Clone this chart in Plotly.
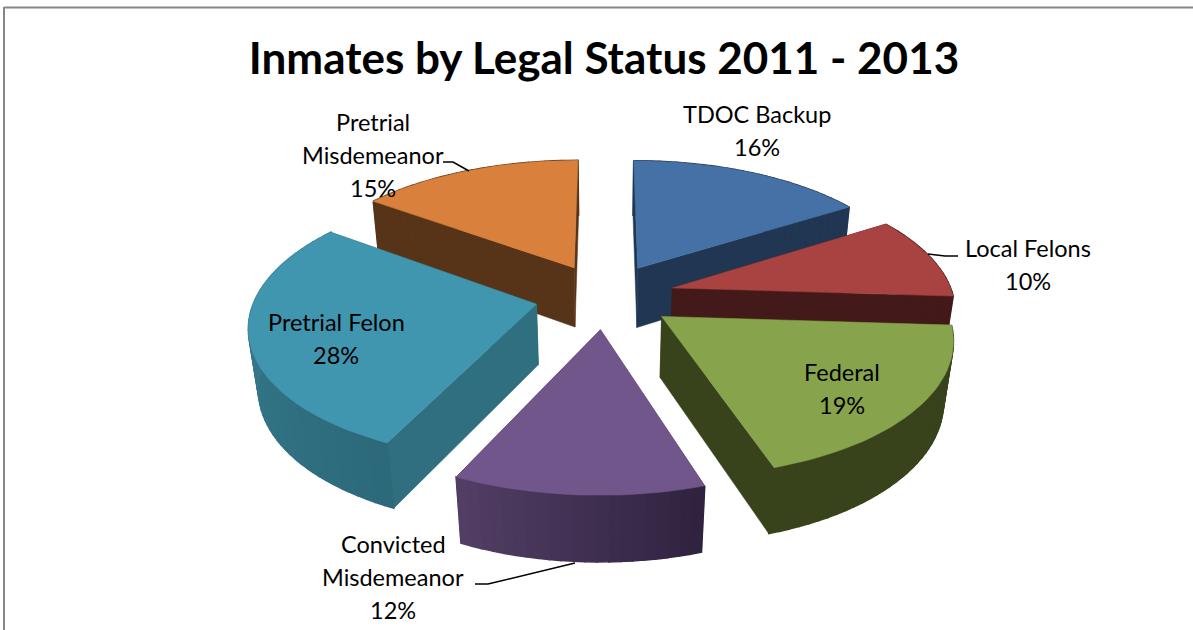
import math
import plotly.graph_objects as go

# Chart data
categories = ["TDOC Backup", "Local Felons", "Federal", "Convicted Misdemeanor", "Pretrial Felon", "Pretrial Misdemeanor"]
shares = [16, 10, 19, 12, 28, 15]

# Slice styling
top_colors = ["#4571A6", "#A84342", "#87A34C", "#71568C", "#4096AE", "#D8803C"]
side_colors = ["#203652", "#431A19", "#38431C", "#3F2F52", "#2F6F80", "#573418"]
wall_left = ["#203652", "#431A19", "#38431C", "#523E65", "#3A8095", "#573418"]
wall_right = ["#203652", "#431A19", "#38431C", "#30233F", "#2C6A7A", "#573418"]
paint_order = [0, 5, 1, 4, 2, 3]

# Projection of the tilted, exploded pie onto the plot area
CX, CY = 605, 296
RX, RY = 302, 140.5
PERSPECTIVE = 0.156
DEPTH_SHRINK = 0.028
THICKNESS = 62
EXPLODE = 0.232
RADIUS = 0.93


def project(u, v, drop=0.0):
    s = 1 / (1 + PERSPECTIVE * v + DEPTH_SHRINK * drop)
    return CX + RX * u * s, CY - RY * v * s + drop * THICKNESS * s


def hex_mix(a, b, t):
    ca = [int(a[i:i + 2], 16) for i in (1, 3, 5)]
    cb = [int(b[i:i + 2], 16) for i in (1, 3, 5)]
    return "#" + "".join(f"{round(x + (y - x) * t):02x}" for x, y in zip(ca, cb))


def polygon(points, color, edge=0.5):
    xs, ys = zip(*points)
    return go.Scatter(
        x=list(xs) + [xs[0]], y=list(ys) + [ys[0]], mode="lines", fill="toself",
        fillcolor=color, line=dict(color=color, width=edge), hoverinfo="skip", showlegend=False,
    )


fig = go.Figure()

total = sum(shares)
edges = [0.0]
for value in shares:
    edges.append(edges[-1] + 360.0 * value / total)

for i in paint_order:
    a0, a1 = edges[i], edges[i + 1]
    mid = math.radians((a0 + a1) / 2)
    ox, oy = EXPLODE * math.sin(mid), EXPLODE * math.cos(mid)
    steps = max(8, int((a1 - a0) / 2))
    angles = [math.radians(a0 + (a1 - a0) * k / steps) for k in range(steps + 1)]
    rim = [(ox + RADIUS * math.sin(t), oy + RADIUS * math.cos(t)) for t in angles]
    apex = (ox, oy)

    # Flat cut faces first, then the curved wall, then the top surface
    for end in (rim[0], rim[-1]):
        fig.add_trace(polygon([project(*apex), project(*end), project(*end, 1), project(*apex, 1)], side_colors[i]))
    for k in range(steps):
        t = k / max(steps - 1, 1)
        # Clockwise angles run right-to-left along the front of the pie
        shade = hex_mix(wall_right[i], wall_left[i], t)
        fig.add_trace(polygon([project(*rim[k]), project(*rim[k + 1]), project(*rim[k + 1], 1), project(*rim[k], 1)],
                              shade, edge=1.5))
    fig.add_trace(polygon([project(*apex)] + [project(*p) for p in rim], top_colors[i]))

# Leader lines between outside labels and their slices
leaders = [
    ([958, 945, 928], [256, 256, 254]),
    ([475, 488, 575], [584, 584, 563]),
    ([443, 453, 469], [162, 162, 171]),
]
for xs, ys in leaders:
    fig.add_trace(go.Scatter(x=xs, y=ys, mode="lines", line=dict(color="black", width=1.5),
                             hoverinfo="skip", showlegend=False))

# Data labels, one line of text at a time: category name above its percentage
label_lines = {
    0: (["TDOC Backup"], 757, 114),
    1: (["Local Felons"], 1028, 248),
    2: (["Federal"], 842, 372),
    3: (["Convicted", "Misdemeanor"], 393, 544),
    4: (["Pretrial Felon"], 336, 322),
    5: (["Pretrial", "Misdemeanor"], 373, 122),
}
LINE_STEP = 33
for i, (names, x, y) in label_lines.items():
    for row, text in enumerate(names + [f"{shares[i]}%"]):
        fig.add_annotation(x=x, y=y + row * LINE_STEP, text=text, showarrow=False, xanchor="center", yanchor="middle",
                           font=dict(family="Lato", size=23.5, color="black"))

fig.update_layout(
    width=1193, height=630, margin=dict(l=0, r=0, t=0, b=0),
    paper_bgcolor="white", plot_bgcolor="white", showlegend=False,
    title=dict(text="<b>Inmates by Legal Status 2011 - 2013</b>", x=604 / 1193, xanchor="center",
               y=1 - 59 / 630, yanchor="middle", font=dict(family="Lato", size=44, color="black")),
    xaxis=dict(range=[0, 1193], visible=False, fixedrange=True),
    yaxis=dict(range=[630, 0], visible=False, fixedrange=True),
    shapes=[
        dict(type="line", x0=4, x1=4, y0=7, y1=630, line=dict(color="#868686", width=2)),
        dict(type="line", x0=4, x1=1193, y0=7.5, y1=7.5, line=dict(color="#868686", width=2)),
    ],
)

fig.write_html("out.html")
